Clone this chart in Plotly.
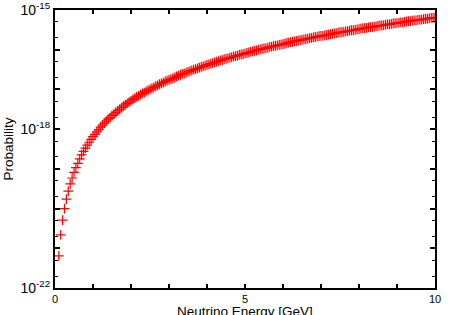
import plotly.graph_objects as go

# neutrino energy grid [GeV]
energy = [
    0.10, 0.15, 0.20, 0.25, 0.30, 0.35, 0.40, 0.45, 0.50, 0.55, 0.60, 0.65, 0.70, 0.75, 0.80, 0.85, 0.90, 0.95, 1.00,
    1.05, 1.10, 1.15, 1.20, 1.25, 1.30, 1.35, 1.40, 1.45, 1.50, 1.55, 1.60, 1.65, 1.70, 1.75, 1.80, 1.85, 1.90, 1.95, 2.00,
    2.05, 2.10, 2.15, 2.20, 2.25, 2.30, 2.35, 2.40, 2.45, 2.50, 2.55, 2.60, 2.65, 2.70, 2.75, 2.80, 2.85, 2.90, 2.95, 3.00,
    3.05, 3.10, 3.15, 3.20, 3.25, 3.30, 3.35, 3.40, 3.45, 3.50, 3.55, 3.60, 3.65, 3.70, 3.75, 3.80, 3.85, 3.90, 3.95, 4.00,
    4.05, 4.10, 4.15, 4.20, 4.25, 4.30, 4.35, 4.40, 4.45, 4.50, 4.55, 4.60, 4.65, 4.70, 4.75, 4.80, 4.85, 4.90, 4.95, 5.00,
    5.05, 5.10, 5.15, 5.20, 5.25, 5.30, 5.35, 5.40, 5.45, 5.50, 5.55, 5.60, 5.65, 5.70, 5.75, 5.80, 5.85, 5.90, 5.95, 6.00,
    6.05, 6.10, 6.15, 6.20, 6.25, 6.30, 6.35, 6.40, 6.45, 6.50, 6.55, 6.60, 6.65, 6.70, 6.75, 6.80, 6.85, 6.90, 6.95, 7.00,
    7.05, 7.10, 7.15, 7.20, 7.25, 7.30, 7.35, 7.40, 7.45, 7.50, 7.55, 7.60, 7.65, 7.70, 7.75, 7.80, 7.85, 7.90, 7.95, 8.00,
    8.05, 8.10, 8.15, 8.20, 8.25, 8.30, 8.35, 8.40, 8.45, 8.50, 8.55, 8.60, 8.65, 8.70, 8.75, 8.80, 8.85, 8.90, 8.95, 9.00,
    9.05, 9.10, 9.15, 9.20, 9.25, 9.30, 9.35, 9.40, 9.45, 9.50, 9.55, 9.60, 9.65, 9.70, 9.75, 9.80, 9.85, 9.90, 9.95, 10.00,
]

# log10 of the probability
log_prob = [
    -21.19, -20.66, -20.29, -20.00, -19.76, -19.56, -19.38, -19.23, -19.09, -18.97, -18.86, -18.75, -18.65, -18.56, -18.48, -18.40, -18.33, -18.26, -18.19,
    -18.13, -18.07, -18.01, -17.95, -17.90, -17.85, -17.80, -17.75, -17.71, -17.66, -17.62, -17.58, -17.54, -17.50, -17.46, -17.42, -17.39, -17.35, -17.32, -17.29,
    -17.25, -17.22, -17.19, -17.16, -17.13, -17.10, -17.08, -17.05, -17.02, -17.00, -16.97, -16.95, -16.92, -16.90, -16.87, -16.85, -16.83, -16.80, -16.78, -16.76,
    -16.74, -16.72, -16.70, -16.67, -16.65, -16.63, -16.61, -16.60, -16.58, -16.56, -16.54, -16.52, -16.50, -16.49, -16.47, -16.45, -16.43, -16.42, -16.40, -16.38,
    -16.37, -16.35, -16.34, -16.32, -16.30, -16.29, -16.27, -16.26, -16.24, -16.23, -16.22, -16.20, -16.19, -16.17, -16.16, -16.15, -16.13, -16.12, -16.11, -16.09,
    -16.08, -16.07, -16.05, -16.04, -16.03, -16.02, -16.00, -15.99, -15.98, -15.97, -15.96, -15.95, -15.93, -15.92, -15.91, -15.90, -15.89, -15.88, -15.87, -15.86,
    -15.85, -15.83, -15.82, -15.81, -15.80, -15.79, -15.78, -15.77, -15.76, -15.75, -15.74, -15.73, -15.72, -15.71, -15.70, -15.69, -15.68, -15.67, -15.66, -15.65,
    -15.65, -15.64, -15.63, -15.62, -15.61, -15.60, -15.59, -15.58, -15.57, -15.56, -15.56, -15.55, -15.54, -15.53, -15.52, -15.51, -15.51, -15.50, -15.49, -15.48,
    -15.47, -15.46, -15.46, -15.45, -15.44, -15.43, -15.43, -15.42, -15.41, -15.40, -15.39, -15.39, -15.38, -15.37, -15.36, -15.36, -15.35, -15.34, -15.33, -15.33,
    -15.32, -15.31, -15.31, -15.30, -15.29, -15.28, -15.28, -15.27, -15.26, -15.26, -15.25, -15.24, -15.24, -15.23, -15.22, -15.22, -15.21, -15.20, -15.20, -15.19,
]
prob = [10 ** v for v in log_prob]

x_ticks = [0, 1, 2, 3, 4, 5, 6, 7, 8, 9, 10]
x_labels = ["0", "", "", "", "", "5", "", "", "", "", "10"]
y_decades = [-22, -21, -20, -19, -18, -17, -16, -15]
y_labeled = {-22: "10<sup>-22</sup>", -18: "10<sup>-18</sup>", -15: "10<sup>-15</sup>"}

y_ticks = [10.0 ** d for d in y_decades]
y_labels = [y_labeled.get(d, "") for d in y_decades]
y_minor = [m * 10.0 ** d for d in y_decades[:-1] for m in (2, 5)]

fig = go.Figure()
fig.add_trace(go.Scatter(
    x=energy, y=prob, mode="markers",
    marker=dict(symbol="cross-thin", size=7, color="red", line=dict(width=1.2, color="red")),
    showlegend=False,
))

fam = "Liberation Sans, Arial, sans-serif"
title_font = dict(family=fam, size=13.5, color="black")
fig.update_xaxes(
    range=[0, 10], tickvals=x_ticks, ticktext=x_labels,
    ticks="inside", ticklen=4, tickwidth=1.5, tickcolor="black",
    showline=True, linewidth=2, linecolor="black", mirror="ticks",
    showgrid=False, zeroline=False, automargin=False,
    tickfont=dict(family=fam, size=11, color="black"),
)
fig.update_yaxes(
    type="log", range=[-22, -15], tickvals=y_ticks, ticktext=y_labels,
    ticks="inside", ticklen=5, tickwidth=1.5, tickcolor="black",
    minor=dict(tickvals=y_minor, ticks="inside", ticklen=3, tickwidth=1.2, tickcolor="black"),
    showline=True, linewidth=2, linecolor="black", mirror="ticks",
    showgrid=False, zeroline=False, automargin=False,
    tickfont=dict(family=fam, size=14, color="black"),
    title=dict(text="Probability", font=title_font, standoff=4),
)
# x title sits low and runs off the bottom edge, like the original
fig.add_annotation(
    text="Neutrino Energy [GeV]", x=0.5, y=0, xref="paper", yref="paper",
    xanchor="center", yanchor="top", yshift=-14, showarrow=False, font=title_font,
)
fig.update_layout(
    width=450, height=315,
    margin=dict(l=55, r=15, t=10, b=27),
    plot_bgcolor="white", paper_bgcolor="white",
)
# drop the default page margin so the figure sits at the window's corner
fig.write_html("out.html", config={"displayModeBar": False},
               post_script="document.body.style.margin='0';")
